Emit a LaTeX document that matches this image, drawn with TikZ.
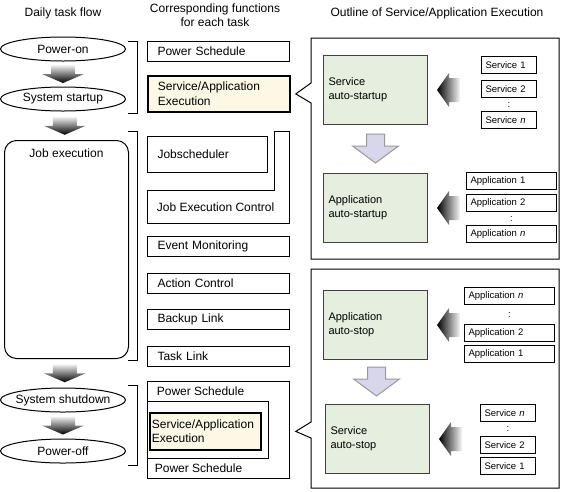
\documentclass[tikz,border=0pt]{standalone}
\usepackage{fontspec}
\setmainfont{Liberation Sans}
\usepackage{tikz}
\usetikzlibrary{shapes,calc,positioning}
\definecolor{autogreen}{RGB}{229,238,223}
\definecolor{execyellow}{RGB}{252,248,229}
\definecolor{lavender}{RGB}{216,214,234}

\begin{document}
\begin{tikzpicture}[x=1pt, y=-1pt, line width=1pt,
  every node/.style={font=\fontsize{12}{14.5}\selectfont},
  flow/.style={minimum width=125, minimum height=24, inner sep=0},
  func/.style={draw, rectangle, anchor=north west, minimum height=20, text width=122, inner xsep=10, inner ysep=0, align=left},
  exec/.style={func, fill=execyellow, line width=1.8pt},
  autobox/.style={draw=black!75, fill=autogreen, anchor=north west, minimum height=69, text width=94, inner xsep=5, inner ysep=0, align=left, font=\fontsize{11}{14}\selectfont},
  item/.style={draw, anchor=north west, minimum height=17, inner xsep=4, inner ysep=0, align=left, font=\fontsize{9.5}{11}\selectfont},
  svcitem/.style={item, text width=47},
  appitem/.style={item, text width=82},
  itemdots/.style={font=\fontsize{9.5}{11}\selectfont, inner sep=0},
  outlinebox/.style={draw, fill=white}
]
\useasboundingbox (0,0) rectangle (561,491);

% headers
\node (hflow) at (63,13) {Daily task flow};
\node[align=center] (hfunc) at (215,15) {Corresponding functions\\for each task};
\node (hout) at (437,13) {Outline of Service/Application Execution};

% daily task flow
\node[flow] (poweron) at (63,49) {Power-on};
\node[flow] (startup) at (63,99) {System startup};
\node[draw, rounded corners=12, anchor=north west, minimum width=124, minimum height=218] (job) at (4,140) {};
\node[below=5pt of job.north] (jobtext) {Job execution};
\node[flow] (shutdown) at (63,400) {System shutdown};
\node[flow] (poweroff) at (63,451) {Power-off};
\foreach \n in {poweron,startup,shutdown,poweroff}
  \draw (\n.center) ellipse [x radius=62.5, y radius=12];
\foreach \a/\b in {poweron/startup,startup/job,job/shutdown,shutdown/poweroff}
  \shade[top color=gray!10, bottom color=black] ($(\a.south)!0.5!(\b.north)$) ++(-12,-9) -- ++(24,0) -- ++(0,9) -- ++(9,0) -- ++(-21,9) -- ++(-21,-9) -- ++(9,0) -- cycle;

% brackets
\draw (128,41) -- ++(9,0) |- (128,113);
\draw (128,131) -- ++(9,0) |- (128,360);
\draw (128,385) -- ++(9,0) |- (128,465);

% corresponding functions
\node[func] (pwr1) at (147,41) {Power Schedule};
\node[exec, minimum height=36] (exec1) at (147,75) {Service/Application\\Execution};
\node[func, text width=100, minimum height=36] (jobsched) at (147,136) {Jobscheduler};
\draw (274,131) -- (289,131) -- (289,223) -- (147,223) -- (147,190) -- (274,190) -- cycle;
\node[anchor=west] (jobctrl) at (153,207) {Job Execution Control};
\node[func] (event) at (147,236) {Event Monitoring};
\node[func] (action) at (147,273) {Action Control};
\node[func] (backup) at (147,309) {Backup Link};
\node[func] (tasklink) at (147,346) {Task Link};
\draw (147,381) rectangle (289,478);
\draw (147,401) -| (268,458) -- (147,458);
\node[anchor=west] (pwr2) at (153,391) {Power Schedule};
\node[exec, text width=107, inner xsep=2, minimum height=37] (exec2) at (149,412) {Service/Application\\Execution};
\node[anchor=west] (pwr3) at (151,468) {Power Schedule};

% outline of service/application execution
\draw[outlinebox] (311,38) -- (559,38) -- (559,259) -- (311,259) -- (311,103) -- ($(exec1.east)+(5,0)$) -- (311,83) -- cycle;
\draw[outlinebox] (311,269) -- (559,269) -- (559,488) -- (311,488) -- (311,438) -- ($(exec2.east)+(34,0)$) -- (311,422) -- cycle;

\node[autobox] (svcstart) at (323,55) {Service\\auto-startup};
\node[autobox] (appstart) at (323,173) {Application\\auto-startup};
\node[autobox] (appstop) at (323,290) {Application\\auto-stop};
\node[autobox] (svcstop) at (325,404) {Service\\auto-stop};

\foreach \a/\b in {svcstart/appstart,appstop/svcstop}
  \draw[fill=lavender, draw=gray!80] ($(\a.south)!0.5!(\b.north)$) ++(-9,-15) -- ++(18,0) -- ++(0,12) -- ++(14,0) -- ++(-23,17) -- ++(-23,-17) -- ++(14,0) -- cycle;
\foreach \a in {svcstart,appstart,appstop,svcstop}
  \shade[left color=black, right color=gray!5] ($(\a.east)+(9,0)$) -- ++(12,-17) -- ++(0,5) -- ++(11,0) -- ++(0,24) -- ++(-11,0) -- ++(0,5) -- cycle;

\node[svcitem] (svc1) at (481,56) {Service 1};
\node[svcitem] (svc2) at (481,80) {Service 2};
\node[svcitem] (svcn) at (481,111) {Service \textit{n}};
\node[itemdots] (svcdots) at ($(svc2.south)!0.5!(svcn.north)$) {:};

\node[appitem] (app1) at (466,172) {Application 1};
\node[appitem] (app2) at (466,194) {Application 2};
\node[appitem] (appn) at (466,225) {Application \textit{n}};
\node[itemdots] (appdots) at ($(app2.south)!0.5!(appn.north)$) {:};

\node[appitem] (appnb) at (464,287) {Application \textit{n}};
\node[appitem] (app2b) at (464,324) {Application 2};
\node[appitem] (app1b) at (464,345) {Application 1};
\node[itemdots] (appdotsb) at ($(appnb.south)!0.5!(app2b.north)$) {:};

\node[svcitem] (svcnb) at (480,404) {Service \textit{n}};
\node[svcitem] (svc2b) at (480,436) {Service 2};
\node[svcitem] (svc1b) at (480,457) {Service 1};
\node[itemdots] (svcdotsb) at ($(svcnb.south)!0.5!(svc2b.north)$) {:};
\end{tikzpicture}
\end{document}
